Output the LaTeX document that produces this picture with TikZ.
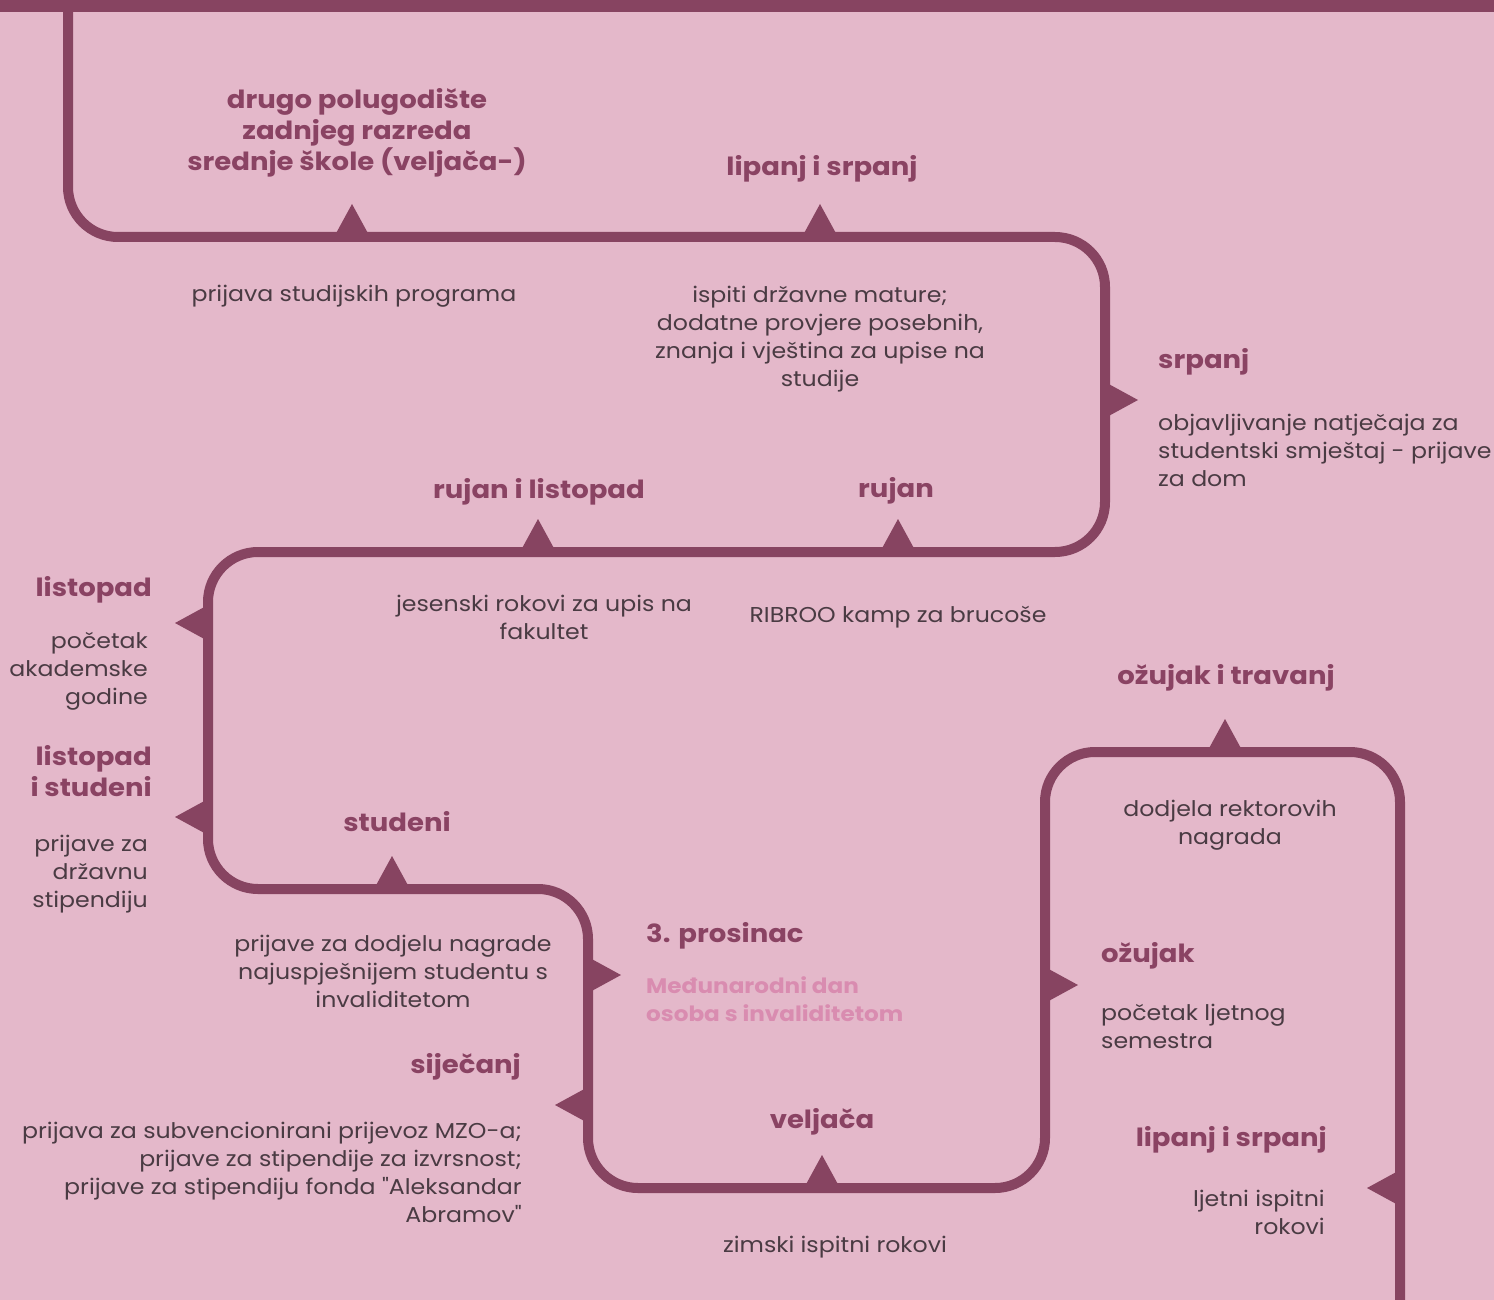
\documentclass[tikz,border=0pt]{standalone}
\usepackage{fontspec}
\setmainfont[FakeStretch=1.1, Ligatures=TeXOff]{Poppins}
\usetikzlibrary{positioning}

\definecolor{bgpink}{HTML}{E4B8CA}
\definecolor{plum}{HTML}{874461}
\definecolor{heading}{HTML}{8A4363}
\definecolor{bodygray}{HTML}{4A3B43}
\definecolor{rosetext}{HTML}{D98CB0}

\tikzset{
  month/.style={font=\fontsize{25}{31}\selectfont\bfseries, text=heading, inner sep=0pt},
  note/.style={font=\fontsize{21.5}{28}\selectfont, text=bodygray, inner sep=0pt},
  road/.style={draw=plum, line width=10pt, rounded corners=50pt},
}
% small triangles sitting on the road
\newcommand\tipup[1]{\fill[plum] (#1) ++(-18,0) -- ++(18,-33) -- ++(18,33) -- cycle;}
\newcommand\tipright[1]{\fill[plum] (#1) ++(0,-18) -- ++(33,18) -- ++(-33,18) -- cycle;}
\newcommand\tipleft[1]{\fill[plum] (#1) ++(0,-18) -- ++(-33,18) -- ++(33,18) -- cycle;}

\begin{document}
\begin{tikzpicture}[x=1pt,y=-1pt]
  \fill[bgpink] (0,0) rectangle (1494,1300);
  \useasboundingbox (0,0) rectangle (1494,1300);
  \fill[plum] (0,0) rectangle (1494,12);

  % the road
  \draw[road] (68,0) -- (68,237) -- (1105,237) -- (1105,552) -- (208,552)
    -- (208,889) -- (588,889) -- (588,1188) -- (1045,1188) -- (1045,752)
    -- (1400,752) -- (1400,1310);

  \coordinate (m1) at (352,237);
  \coordinate (m2) at (820,237);
  \coordinate (m3) at (1105,400);
  \coordinate (m4) at (538,552);
  \coordinate (m5) at (898,552);
  \coordinate (m6) at (208,623);
  \coordinate (m7) at (208,817);
  \coordinate (m8) at (392,889);
  \coordinate (m9) at (588,975);
  \coordinate (m10) at (588,1105);
  \coordinate (m11) at (822,1188);
  \coordinate (m12) at (1045,985);
  \coordinate (m13) at (1225,752);
  \coordinate (m14) at (1400,1188);
  \tipup{m1} \tipup{m2} \tipright{m3} \tipup{m4} \tipup{m5}
  \tipleft{m6} \tipleft{m7} \tipup{m8} \tipright{m9} \tipleft{m10}
  \tipup{m11} \tipright{m12} \tipup{m13} \tipleft{m14}

  % first row
  \node[month, align=center] (skola) at (357,133) {drugo polugodište\\zadnjeg razreda\\srednje škole (veljača-)};
  \node[note] (prijava) at (354,296) {prijava studijskih programa};
  \node[month] (lipsrp) at (822,169) {lipanj i srpanj};
  \node[note, align=center] (matura) at (820,339) {ispiti državne mature;\\dodatne provjere posebnih,\\znanja i vještina za upise na\\studije};
  \node[month, anchor=west] (srpanj) at (1158,362) {srpanj};
  \node[note, align=left, anchor=north west] (dom) at (1158,414) {objavljivanje natječaja za\\studentski smještaj - prijave\\za dom};

  % second row
  \node[month] (rujlis) at (539,492) {rujan i listopad};
  \node[month] (rujan) at (896,491) {rujan};
  \node[note, align=center] (jesen) at (544,617) {jesenski rokovi za upis na\\fakultet};
  \node[note] (kamp) at (898,617) {RIBROO kamp za brucoše};
  \node[month, anchor=east] (listopad) at (152,590) {listopad};
  \node[note, align=right, anchor=north east] (pocetak) at (148,632) {početak\\akademske\\godine};
  \node[month, align=right, anchor=east] (lisstu) at (152,771) {listopad\\i studeni};
  \node[note, align=right, anchor=north east] (drzavna) at (148,835) {prijave za\\državnu\\stipendiju};

  % third row
  \node[month] (studeni) at (397,822) {studeni};
  \node[note, align=center] (nagrada) at (393,971) {prijave za dodjelu nagrade\\najuspješnijem studentu s\\invaliditetom};
  \node[month, anchor=west] (prosinac) at (646,936) {3. prosinac};
  \node[note, font=\fontsize{21}{28}\selectfont\bfseries, text=rosetext, align=left, anchor=north west] (dan) at (646,976) {Međunarodni dan\\osoba s invaliditetom};
  \node[month, anchor=east] (sijecanj) at (521,1067) {siječanj};
  \node[note, align=right, anchor=north east] (mzo) at (522,1122) {prijava za subvencionirani prijevoz MZO-a;\\prijave za stipendije za izvrsnost;\\prijave za stipendiju fonda "Aleksandar\\Abramov"};
  \node[month] (veljaca) at (822,1122) {veljača};
  \node[note] (zimski) at (835,1247) {zimski ispitni rokovi};

  % last loop
  \node[month] (ozutra) at (1226,678) {ožujak i travanj};
  \node[note, align=center] (rektor) at (1230,825) {dodjela rektorovih\\nagrada};
  \node[month, anchor=west] (ozujak) at (1101,956) {ožujak};
  \node[note, align=left, anchor=north west] (ljetni) at (1101,1004) {početak ljetnog\\semestra};
  \node[month, anchor=east] (lipsrp2) at (1327,1140) {lipanj i srpanj};
  \node[note, align=right, anchor=north east] (rokovi) at (1325,1190) {ljetni ispitni\\rokovi};
\end{tikzpicture}
\end{document}
